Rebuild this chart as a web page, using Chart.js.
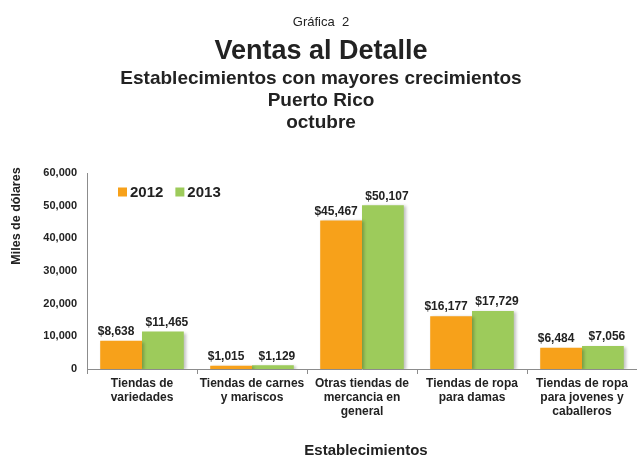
<!DOCTYPE html>
<html lang="es">
<head>
  <meta charset="UTF-8" />
  <title>Ventas al Detalle</title>
  <script src="https://cdn.jsdelivr.net/npm/chart.js"></script>
  <style>
    body { margin: 0; background: #ffffff; }
    canvas { display: block; }
  </style>
</head>
<body>
  <canvas id="chart" width="637" height="462"></canvas>
  <script>
    const categories = [
      ['Tiendas de', 'variedades'],
      ['Tiendas de carnes', 'y mariscos'],
      ['Otras tiendas de', 'mercancia en', 'general'],
      ['Tiendas de ropa', 'para damas'],
      ['Tiendas de ropa', 'para jovenes y', 'caballeros']
    ];
    const values2012 = [8638, 1015, 45467, 16177, 6484];
    const values2013 = [11465, 1129, 50107, 17729, 7056];
    const seriesNames = ['2012', '2013'];
    const yTicks = [0, 10000, 20000, 30000, 40000, 50000, 60000];

    const FONT = '"Liberation Sans", Arial, sans-serif';
    const titleLines = [
      { text: 'Gráfica  2', font: '13px ' + FONT, y: 22 },
      { text: 'Ventas al Detalle', font: 'bold 27px ' + FONT, y: 52 },
      { text: 'Establecimientos con mayores crecimientos', font: 'bold 19px ' + FONT, y: 79 },
      { text: 'Puerto Rico', font: 'bold 19px ' + FONT, y: 101 },
      { text: 'octubre', font: 'bold 19px ' + FONT, y: 123 }
    ];

    const fmt = v => '$' + v.toLocaleString('en-US');
    const textColor = '#222222';
    // the two value labels of a pair sit slightly apart from each other
    const labelShift = [-5, 4];

    const extras = {
      id: 'extras',
      beforeDatasetsDraw(chart) {
        const ctx = chart.ctx;
        ctx.save();
        ctx.shadowColor = 'rgba(0,0,0,0.25)';
        ctx.shadowBlur = 3;
        ctx.shadowOffsetX = 2;
        ctx.shadowOffsetY = 1;
      },
      afterDatasetsDraw(chart) {
        const ctx = chart.ctx;
        ctx.restore();
        ctx.save();
        ctx.fillStyle = textColor;
        ctx.font = 'bold 12px ' + FONT;
        ctx.textAlign = 'center';
        ctx.textBaseline = 'bottom';
        chart.data.datasets.forEach((ds, di) => {
          const meta = chart.getDatasetMeta(di);
          meta.data.forEach((bar, i) => {
            ctx.fillText(fmt(ds.data[i]), bar.x + labelShift[di], bar.y - 3);
          });
        });
        ctx.restore();
      },
      afterDraw(chart) {
        const ctx = chart.ctx;
        ctx.save();
        ctx.fillStyle = textColor;
        ctx.textAlign = 'center';
        ctx.textBaseline = 'middle';
        titleLines.forEach(l => {
          ctx.font = l.font;
          ctx.fillText(l.text, 321, l.y);
        });

        // axis titles
        ctx.font = 'bold 15px ' + FONT;
        ctx.fillText('Establecimientos', 366, 451);
        ctx.save();
        ctx.translate(17, 216);
        ctx.rotate(-Math.PI / 2);
        ctx.font = 'bold 12.5px ' + FONT;
        ctx.fillText('Miles de dólares', 0, 0);
        ctx.restore();

        // legend inside plot
        ctx.font = 'bold 15px ' + FONT;
        ctx.textAlign = 'left';
        let x = 118;
        const y = 192;
        chart.data.datasets.forEach(ds => {
          ctx.fillStyle = ds.backgroundColor;
          ctx.fillRect(x, y - 4.5, 9, 9);
          ctx.fillStyle = textColor;
          ctx.fillText(ds.label, x + 12, y + 1);
          x += 12 + ctx.measureText(ds.label).width + 12;
        });
        ctx.restore();
      }
    };

    new Chart(document.getElementById('chart'), {
      type: 'bar',
      data: {
        labels: categories,
        datasets: [
          { label: seriesNames[0], data: values2012, backgroundColor: '#F7A11A' },
          { label: seriesNames[1], data: values2013, backgroundColor: '#9DCB5B' }
        ]
      },
      options: {
        responsive: false,
        animation: false,
        layout: { padding: { top: 173, left: 0, right: 0, bottom: 0 } },
        datasets: { bar: { categoryPercentage: 0.76, barPercentage: 1.0 } },
        plugins: {
          legend: { display: false },
          title: { display: false },
          tooltip: { enabled: false }
        },
        scales: {
          x: {
            afterFit: s => { s.height = 93; },
            grid: {
              offset: true,
              drawOnChartArea: false,
              drawTicks: true,
              tickLength: 5,
              color: '#8c8c8c'
            },
            border: { display: true, color: '#8c8c8c' },
            ticks: {
              color: textColor,
              font: { family: FONT, size: 12, weight: 'bold', lineHeight: 1.17 },
              padding: 3,
              maxRotation: 0,
              autoSkip: false
            }
          },
          y: {
            min: 0,
            max: 60000,
            afterFit: s => { s.width = 87; },
            afterBuildTicks: s => { s.ticks = yTicks.map(v => ({ value: v })); },
            grid: { display: false, drawTicks: false },
            border: { display: true, color: '#8c8c8c' },
            ticks: {
              color: textColor,
              font: { family: FONT, size: 11, weight: 'bold' },
              padding: 10,
              callback: v => v.toLocaleString('en-US')
            }
          }
        }
      },
      plugins: [extras]
    });
  </script>
</body>
</html>
